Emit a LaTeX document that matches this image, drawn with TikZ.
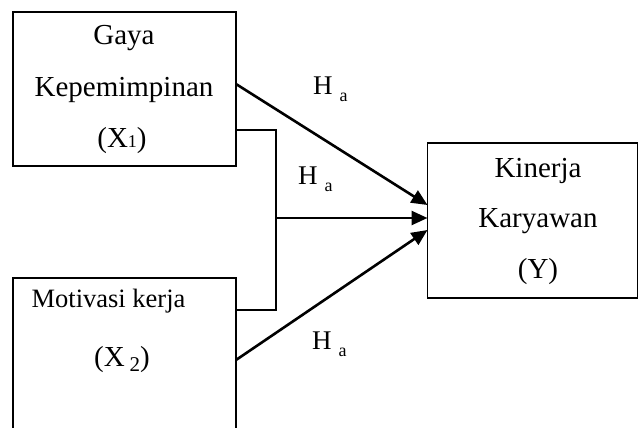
\documentclass[tikz,border=0pt]{standalone}
\usepackage{fontspec}
\setmainfont{Liberation Serif}
\usetikzlibrary{arrows.meta,calc}
\begin{document}
\begin{tikzpicture}[x=1pt,y=-1pt,
 box/.style={draw,line width=1.8pt,inner sep=0,outer sep=0},
 txt/.style={font=\fontsize{29}{33}\selectfont,inner sep=0,anchor=base},
 link/.style={line width=2.6pt},
 arr/.style={link,-{Triangle[length=16pt,width=14pt]}},
 hlab/.style={font=\fontsize{27}{30}\selectfont,fill=white,inner xsep=9pt,inner ysep=10pt,anchor=base west}]
\useasboundingbox (0,0) rectangle (638,428);
\begin{scope}
\clip (0,0) rectangle (638,428);
% boxes
\node[box,minimum width=223pt,minimum height=154pt] (x1) at (124.5,89) {};
\node[box,minimum width=223pt,minimum height=172pt] (x2) at (124.5,364) {};
\node[box,minimum width=210pt,minimum height=155pt] (y) at (532.5,220.5) {};
% texts
\node[txt] (t1) at (124,45) {Gaya};
\node[txt] (t2) at (124,97) {Kepemimpinan};
\node[txt] (t3) at (122,147) {(X\raisebox{0pt}{\fontsize{18}{18}\selectfont 1})};
\node[txt,font=\fontsize{26.5}{30}\selectfont] (t4) at (108.5,307) {Motivasi kerja};
\node[txt] (t5) at (122,366) {(X\,\raisebox{-5pt}{\fontsize{21}{21}\selectfont 2})};
\node[txt] (t6) at (538,177) {Kinerja};
\node[txt] (t7) at (538,227) {Karyawan};
\node[txt] (t8) at (538,278) {(Y)};
% connector points
\coordinate (a1) at ($(x1.north east)+(0,72)$);
\coordinate (b1) at ($(x1.north east)+(0,118)$);
\coordinate (c1) at (276,130);
\coordinate (c2) at (276,310);
\coordinate (c3) at (276,218);
\coordinate (b2) at ($(x2.north east)+(0,32)$);
\coordinate (a2) at ($(x2.north east)+(0,82)$);
\coordinate (y1) at ($(y.north west)+(0,62)$);
\coordinate (y2) at ($(y.north west)+(0,75)$);
\coordinate (y3) at ($(y.north west)+(0,87)$);
% labels (white patches)
\node[hlab] (h1) at (304,95) {H\hspace{7pt}\raisebox{-7pt}{\fontsize{18}{18}\selectfont a}};
\node[hlab] (h2) at (289,184) {H\hspace{7pt}\raisebox{-7pt}{\fontsize{18}{18}\selectfont a}};
\node[hlab] (h3) at (303,349) {H\hspace{7pt}\raisebox{-7pt}{\fontsize{18}{18}\selectfont a}};
% connectors
\draw[link] (b1) -- (c1) -- (c2) -- (b2);
\draw[arr] (a1) -- (y1);
\draw[arr] (c3) -- (y2);
\draw[arr] (a2) -- (y3);
\end{scope}
\end{tikzpicture}
\end{document}
